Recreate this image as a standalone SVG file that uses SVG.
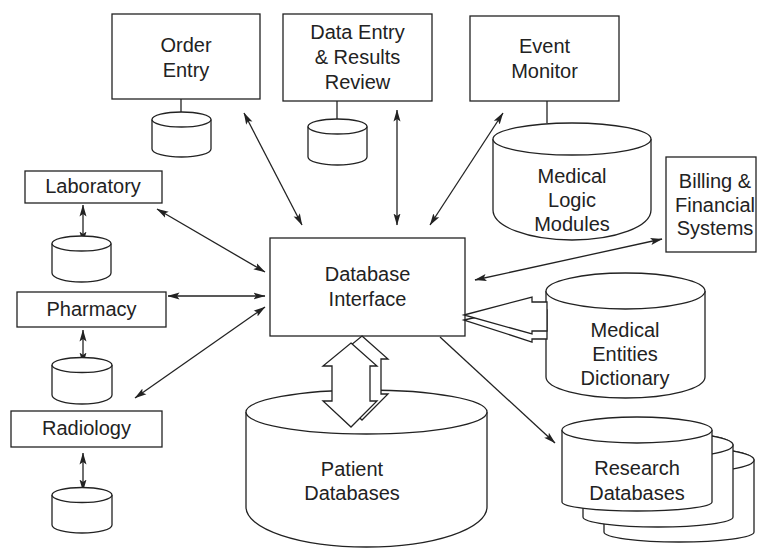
<svg xmlns="http://www.w3.org/2000/svg" width="757" height="550" viewBox="0 0 757 550">
<defs>
<style>
.box{fill:#fff;stroke:#222;stroke-width:1.3}
.cyl{fill:#fff;stroke:#222;stroke-width:1.3}
.ln{fill:none;stroke:#222;stroke-width:1.3}
.fat{fill:#fff;stroke:#222;stroke-width:1.3;stroke-linejoin:miter}
text{font-family:"Liberation Sans",Arial,sans-serif;font-size:20px;fill:#222;text-anchor:middle}
</style>
<marker id="ah" viewBox="0 0 12 8" refX="11.5" refY="4" markerWidth="12" markerHeight="8" markerUnits="userSpaceOnUse" orient="auto-start-reverse">
<path d="M0,0.5 L12,4 L0,7.5 L2.5,4 z" fill="#222"/>
</marker>
</defs>
<rect width="757" height="550" fill="#fff"/>

<g id="connectors">
<line class="ln" x1="181" y1="99" x2="181" y2="112"/>
<line class="ln" x1="337" y1="101" x2="337" y2="119"/>
<line class="ln" x1="547" y1="101" x2="547" y2="123"/>
<line class="ln" x1="244" y1="113" x2="302" y2="225" marker-start="url(#ah)" marker-end="url(#ah)"/>
<line class="ln" x1="397" y1="110" x2="397" y2="225" marker-start="url(#ah)" marker-end="url(#ah)"/>
<line class="ln" x1="503" y1="113" x2="430" y2="225" marker-start="url(#ah)" marker-end="url(#ah)"/>
<line class="ln" x1="662" y1="239" x2="475" y2="280" marker-start="url(#ah)" marker-end="url(#ah)"/>
<line class="ln" x1="157" y1="209" x2="265" y2="272" marker-start="url(#ah)" marker-end="url(#ah)"/>
<line class="ln" x1="168" y1="296" x2="265" y2="296" marker-start="url(#ah)" marker-end="url(#ah)"/>
<line class="ln" x1="265" y1="307" x2="135" y2="398" marker-start="url(#ah)" marker-end="url(#ah)"/>
<line class="ln" x1="83" y1="205" x2="83" y2="243" marker-start="url(#ah)" marker-end="url(#ah)"/>
<line class="ln" x1="83" y1="330" x2="83" y2="364" marker-start="url(#ah)" marker-end="url(#ah)"/>
<line class="ln" x1="83" y1="453" x2="83" y2="491" marker-start="url(#ah)" marker-end="url(#ah)"/>
<line class="ln" x1="440" y1="337" x2="555" y2="443" marker-end="url(#ah)"/>
</g>

<g id="order-entry">
<rect class="box" x="112" y="14" width="148" height="85"/>
<text x="186" y="52">Order</text>
<text x="186" y="77">Entry</text>
</g>
<g id="order-entry-db">
<path class="cyl" d="M152,119.5 L152,149 A29.5 8 0 0 0 211,149 L211,119.5"/>
<ellipse class="cyl" cx="181.5" cy="119.5" rx="29.5" ry="7.5"/>
</g>

<g id="data-entry">
<rect class="box" x="283" y="14" width="149" height="87"/>
<text x="357.5" y="39">Data Entry</text>
<text x="357.5" y="64">&amp; Results</text>
<text x="357.5" y="89">Review</text>
</g>
<g id="data-entry-db">
<path class="cyl" d="M308,126.5 L308,157 A29.5 8 0 0 0 367,157 L367,126.5"/>
<ellipse class="cyl" cx="337.5" cy="126.5" rx="29.5" ry="7.5"/>
</g>

<g id="event-monitor">
<rect class="box" x="470" y="16" width="149" height="85"/>
<text x="544.5" y="53">Event</text>
<text x="544.5" y="78">Monitor</text>
</g>

<g id="medical-logic-modules">
<path class="cyl" d="M493,139 L493,210 A79 30 0 0 0 651,210 L651,139"/>
<ellipse class="cyl" cx="572" cy="139" rx="79" ry="16"/>
<text x="572" y="183">Medical</text>
<text x="572" y="207">Logic</text>
<text x="572" y="231">Modules</text>
</g>

<g id="billing">
<rect class="box" x="666" y="157" width="90" height="95"/>
<text x="715" y="188">Billing &amp;</text>
<text x="715" y="212">Financial</text>
<text x="715" y="235">Systems</text>
</g>

<g id="laboratory">
<rect class="box" x="25" y="171" width="137" height="32"/>
<text x="93" y="193">Laboratory</text>
</g>
<g id="laboratory-db">
<path class="cyl" d="M52,243.5 L52,273 A29.5 9 0 0 0 111,273 L111,243.5"/>
<ellipse class="cyl" cx="81.5" cy="243.5" rx="29.5" ry="7.5"/>
</g>

<g id="pharmacy">
<rect class="box" x="17" y="292" width="149" height="35"/>
<text x="91.5" y="316">Pharmacy</text>
</g>
<g id="pharmacy-db">
<path class="cyl" d="M52,365 L52,395 A30 9 0 0 0 112,395 L112,365"/>
<ellipse class="cyl" cx="82" cy="365" rx="30" ry="7.5"/>
</g>

<g id="radiology">
<rect class="box" x="11" y="411" width="151" height="36"/>
<text x="86.5" y="435">Radiology</text>
</g>
<g id="radiology-db">
<path class="cyl" d="M52,495 L52,525 A30 8 0 0 0 112,525 L112,495"/>
<ellipse class="cyl" cx="82" cy="495" rx="30" ry="7.5"/>
</g>

<g id="database-interface">
<rect class="box" x="270" y="238" width="195" height="98"/>
<text x="367.5" y="281">Database</text>
<text x="367.5" y="306">Interface</text>
</g>

<g id="patient-databases">
<path class="cyl" d="M246,412 L246,507 A120.5 40 0 0 0 487,507 L487,412"/>
<ellipse class="cyl" cx="366.5" cy="412" rx="120.5" ry="22"/>
<text x="352" y="476">Patient</text>
<text x="352" y="500">Databases</text>
</g>

<g id="patient-fat-arrows">
<polygon class="fat" points="362,336 388,359 381,359 381,394 388,394 362,420 334,394 343,394 343,359 334,359"/>
<polygon class="fat" points="351,343 377,366 370,366 370,401 377,401 351,427 323,401 332,401 332,366 323,366"/>
</g>

<g id="medical-entities-dictionary">
<path class="cyl" d="M546,291 L546,377 A79.5 21 0 0 0 705,377 L705,291"/>
<ellipse class="cyl" cx="625.5" cy="291" rx="79.5" ry="18"/>
<text x="625" y="337">Medical</text>
<text x="625" y="361">Entities</text>
<text x="625" y="385">Dictionary</text>
</g>

<g id="med-fat-arrows">
<polygon class="fat" points="464,320 532,305 532,310 547,310 547,339 532,339 532,342"/>
<polygon class="fat" points="464,315 532,297 532,302 547,302 547,331 532,331 532,334"/>
</g>

<g id="research-databases">
<path class="cyl" d="M604,460 L604,532 A75 10 0 0 0 754,532 L754,460 A75 13 0 0 0 604,460 Z"/>
<ellipse class="cyl" cx="679" cy="460" rx="75" ry="13"/>
<path class="cyl" d="M583,445 L583,517 A75 10 0 0 0 733,517 L733,445 A75 13 0 0 0 583,445 Z"/>
<ellipse class="cyl" cx="658" cy="445" rx="75" ry="13"/>
<path class="cyl" d="M562,430 L562,502 A75 9 0 0 0 712,502 L712,430"/>
<ellipse class="cyl" cx="637" cy="430" rx="75" ry="13"/>
<text x="637" y="475">Research</text>
<text x="637" y="500">Databases</text>
</g>
</svg>
